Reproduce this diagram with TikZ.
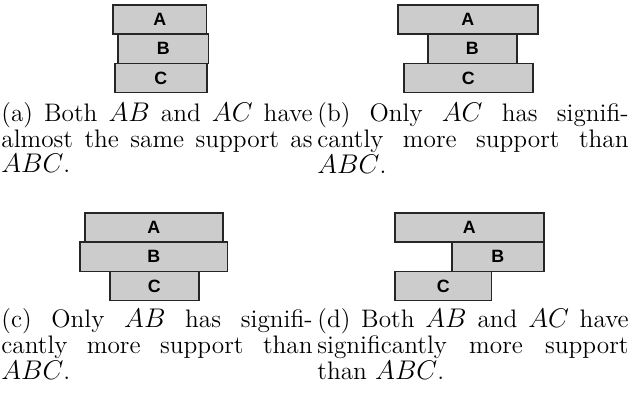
\documentclass[tikz,border=0pt]{standalone}
\usepackage{fontspec}
\newfontfamily\barfont{Liberation Sans}
\usepackage{tikz}
\usetikzlibrary{positioning}

\begin{document}
\begin{tikzpicture}[x=0.5333pt, y=-0.5333pt,
  bar/.style={rectangle, draw=black!85, fill=gray!40, line width=0.8pt,
              anchor=north west, inner sep=0pt, minimum height=15.6pt,
              font=\barfont\bfseries\fontsize{9.5}{11}\selectfont},
  captext/.style={anchor=north west, inner sep=0pt, text width=166pt,
              align=justify, font=\fontsize{13.5}{12.3}\selectfont}
]
  \useasboundingbox (0,0) rectangle (629,396);
  % (a) all three itemsets nearly equal
  \node[bar, minimum width=50.1pt] (aA) at (112,4)  {A};
  \node[bar, minimum width=48.5pt] (aB) at (117,33.3) {B};
  \node[bar, minimum width=49.1pt] (aC) at (114,62.6) {C};
  % (b) only AC larger
  \node[bar, minimum width=74.7pt] (bA) at (397,4)  {A};
  \node[bar, minimum width=47.5pt] (bB) at (427,33.3) {B};
  \node[bar, minimum width=68.8pt] (bC) at (403,62.6) {C};
  % (c) only AB larger
  \node[bar, minimum width=73.6pt] (cA) at (84,212)  {A};
  \node[bar, minimum width=78.9pt] (cB) at (79,241.3) {B};
  \node[bar, minimum width=47.5pt] (cC) at (109,270.6) {C};
  % (d) both larger
  \node[bar, minimum width=79.5pt] (dA) at (394,212)  {A};
  \node[bar, minimum width=49.1pt] (dB) at (451,241.3) {B};
  \node[bar, minimum width=51.7pt] (dC) at (394,270.6) {C};
  % captions
  \node[captext] (capa) at (1,102.4)   {(a) Both $AB$ and $AC$ have\linebreak almost the same support as\linebreak $ABC$.};
  \node[captext] (capb) at (317,102.4) {(b) Only $AC$ has signifi-\linebreak cantly more support than\linebreak $ABC$.};
  \node[captext] (capc) at (1,308.4)   {(c) Only $AB$ has signifi-\linebreak cantly more support than\linebreak $ABC$.};
  \node[captext] (capd) at (317,308.4) {(d) Both $AB$ and $AC$ have\linebreak significantly more support\linebreak than $ABC$.};
\end{tikzpicture}
\end{document}
